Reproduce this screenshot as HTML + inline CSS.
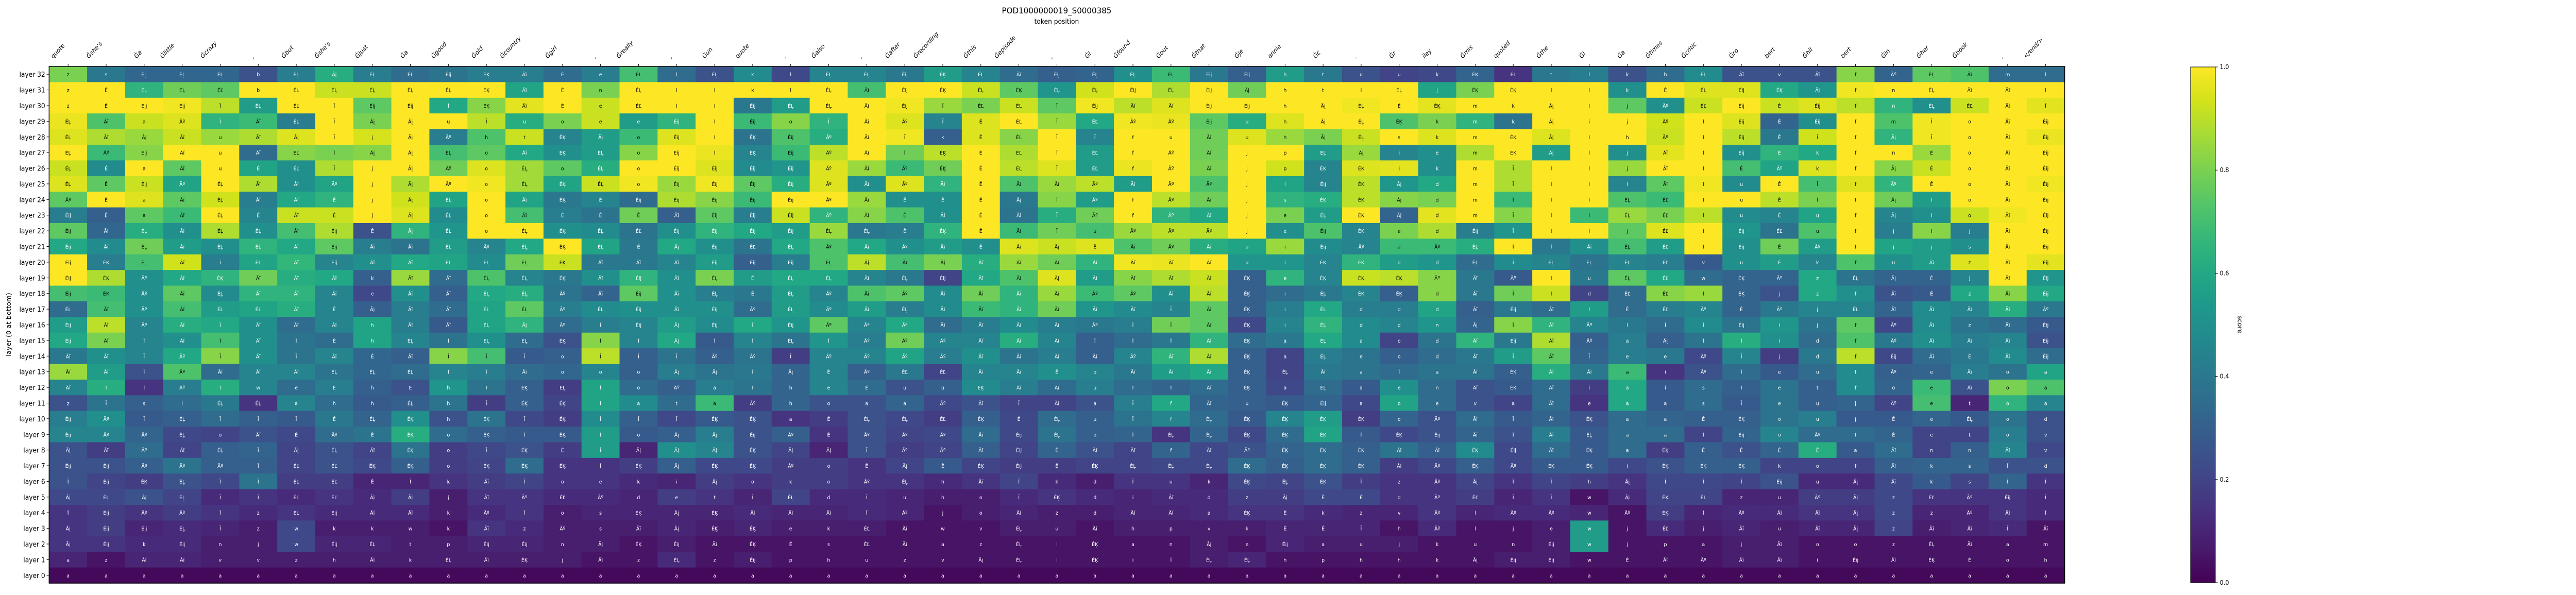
<!DOCTYPE html>
<html>
<head>
<meta charset="utf-8">
<style>
  html, body { margin: 0; padding: 0; background: #ffffff; width: 100%; height: 100%; overflow: hidden; }
  svg { display: block; position: absolute; left: 0; top: 0; width: 100vw; height: 100vh; font-family: "DejaVu Sans", "Liberation Sans", sans-serif; }
</style>
</head>
<body>
<svg id="fig" viewBox="0 0 5300 1155" preserveAspectRatio="none" xmlns="http://www.w3.org/2000/svg">
  <rect x="0" y="0" width="5300" height="1155" fill="#ffffff"/>
  <text x="2174" y="26" font-size="16" text-anchor="middle" fill="#000">POD1000000019_S0000385</text>
  <text x="2174" y="46" font-size="13" text-anchor="middle" fill="#000">token position</text>
  <text x="0" y="0" font-size="13" text-anchor="middle" fill="#000" transform="translate(22,630) rotate(-90)">layer (0 at bottom)</text>
  <g id="cells"></g>
  <g id="xticks"></g>
  <g id="yticks"></g>
  <rect x="101" y="129" width="4147" height="1003" fill="none" stroke="#000" stroke-width="1.5"/>
  <defs>
    <linearGradient id="vir" x1="0" y1="1" x2="0" y2="0"></linearGradient>
  </defs>
  <rect x="4507" y="130" width="51" height="1001" fill="url(#vir)" stroke="#000" stroke-width="1"/>
  <g id="cbticks"></g>
  <text x="0" y="0" font-size="13" text-anchor="middle" fill="#000" transform="translate(4604,630) rotate(90)">score</text>
</svg>
<script>
const tokens = ["quote","Ġshe's","Ġa","Ġlittle","Ġcrazy",",","Ġbut","Ġshe's","Ġjust","Ġa","Ġgood","Ġold","Ġcountry","Ġgirl",",","Ġreally",",","Ġun","quote",".","Ġalso",",","Ġafter","Ġrecording","Ġthis","Ġepisode",",","Ġi","Ġfound","Ġout","Ġthat","Ġje","annie","Ġc",".","Ġr","iley","Ġmis","quoted","Ġthe","Ġl","Ġa","Ġtimes","Ġcritic","Ġro","bert","Ġhil","bert","Ġin","Ġher","Ġbook",",","</end/>"];
const layerLabels = ["layer 32","layer 31","layer 30","layer 29","layer 28","layer 27","layer 26","layer 25","layer 24","layer 23","layer 22","layer 21","layer 20","layer 19","layer 18","layer 17","layer 16","layer 15","layer 14","layer 13","layer 12","layer 11","layer 10","layer 9","layer 8","layer 7","layer 6","layer 5","layer 4","layer 3","layer 2","layer 1","layer 0"];
const colorbarTicks = [0.0, 0.2, 0.4, 0.6, 0.8, 1.0];
const scoreRows = [
[.8,.4,.33,.33,.33,.25,.42,.62,.42,.35,.38,.42,.42,.35, .42,.7,.35,.25,.48,.22,.45,.45,.4,.55,.45,.35,.3,.32, .5,.68,.4,.3,.55,.4,.25,.2,.22,.32,.15,.4,.42,.25, .35,.48,.25,.25,.25,.82,.32,.75,.72,.35,.35],
[1,1,.65,.78,.75,1,1,.92,.92,1,1,1,.58,1, .8,1,1,1,1,1,1,.7,1,1,.92,.75,.52,.93, 1,.88,1,.78,1,1,1,1,.58,.8,1,1,1,.5, 1,.95,.95,.6,.52,.98,1,1,1,1,1],
[1,1,1,.98,.9,.55,1,1,.75,1,.6,.82,.96,1, .92,1,1,1,.4,.55,1,1,.98,.85,.8,.92,.75,.98, .9,.95,1,1,1,1,.98,1,.96,1,1,1,1,.75, .5,.92,1,.92,.95,.9,.65,.5,.92,1,.96],
[.97,.72,.92,.95,.65,.68,.42,1,.8,1,1,.9,.62,.8, .92,.55,.65,1,.68,.82,.65,1,.95,.45,.95,1,.85,.6, .98,.97,.75,.62,.95,1,1,.72,.8,.65,.38,1,1,1, .93,1,.95,.32,.5,1,.72,.98,1,1,1],
[.95,.88,.85,.92,.85,.88,.95,1,.94,1,.42,.72,.92,.45, .55,.68,.95,1,.38,.72,.62,1,.98,.3,.95,.82,1,.45, 1,1,.78,.95,.85,.8,.92,1,.95,1,1,.95,1,1, .92,1,.9,.4,.93,1,.65,.98,1,1,.97],
[1,.68,.82,1,1,.35,.82,.8,.82,1,.7,.75,.6,.5, .55,.82,1,.97,.45,.68,.9,1,.78,.9,1,.88,1,.55, 1,1,.78,1,1,.55,.85,.45,.5,.88,1,.55,1,.5, .96,1,.5,.65,.6,1,1,.85,1,1,1],
[.92,.48,1,.75,1,.58,.5,.88,1,1,.78,.95,.86,.75, .62,1,1,.95,.48,.52,.95,.85,.68,.78,1,.9,.95,.55, .97,1,.8,1,.93,.45,.95,.96,.5,1,.88,1,1,.85, 1,1,.7,.58,.95,1,.82,.92,1,1,1],
[.95,.75,.92,.58,1,.88,.5,.58,1,.88,1,.98,.86,.58, .92,.98,.85,.98,.75,.62,.95,.5,.95,.65,1,.72,.85,.9, .55,1,.72,1,.58,.45,.9,.52,.6,1,.88,1,1,.45, .75,.98,.48,1,.7,.95,.65,1,1,1,.98],
[.75,1,.95,.75,.93,.42,.6,.65,1,.93,.58,1,.58,.4, .45,.35,.88,.82,.68,1,1,.85,.5,.5,1,.4,.82,.55, 1,.9,.78,1,.65,.62,.9,.82,.8,1,.68,1,1,.72, .68,1,1,.9,.8,1,.78,.55,1,1,1],
[.42,.3,.75,.68,1,.45,.92,.92,1,.95,.48,1,.7,.42, .38,.78,.3,.75,.42,.92,.65,.82,.72,.5,1,.38,.62,.78, 1,.65,.6,1,.8,.55,1,.32,.96,1,.82,1,.68,.85, .8,.9,.48,.45,.58,1,.45,.5,.92,.98,1],
[.75,.33,.62,.5,.88,.5,.7,.88,.25,.65,.52,1,1,.5, .48,.38,.5,.65,.6,.55,.85,.4,.42,.65,1,.68,.78,.7, .85,.9,.9,1,.5,.72,.45,.8,.88,.42,.52,1,1,.75, .95,1,.52,.38,.72,1,.42,.82,.42,1,1],
[.6,.48,.78,.55,.5,.65,.6,.75,.42,.38,.55,.45,.6,1, .58,.4,.6,.5,.38,.6,.72,.6,.5,.55,.5,.95,.92,.95, .72,.78,.62,.58,.85,.48,.45,.68,.68,.62,1,.4,.5,.7, .55,1,.5,.78,.55,1,.58,.55,.5,1,1],
[1,.42,.7,.93,.42,.58,.66,.45,.5,.6,.58,.48,.78,.92, .4,.4,.45,.55,.3,.42,.72,.9,.7,.8,.62,.85,.78,.65, .98,.97,1,.52,.52,.45,.65,.55,.52,.35,.48,.45,.38,.45, .42,.28,.5,.55,.45,.72,.5,.55,.95,1,.96],
[1,.88,.5,.6,.65,.78,.62,.6,.3,.85,.35,.72,.45,.4, .5,.65,.5,.8,.55,.6,.6,.45,.4,.2,.6,.72,.95,.55, .82,.88,.92,.3,.65,.45,.92,.9,.82,.4,.28,1,.4,.75, .6,.35,.32,.32,.6,.38,.32,.32,.45,1,.52],
[.7,.68,.5,.75,.48,.65,.65,.45,.22,.5,.3,.6,.62,.38, .32,.75,.5,.42,.4,.55,.45,.72,.75,.48,.78,.65,.85,.68, .75,.5,.9,.3,.35,.4,.45,.3,.82,.4,.78,.92,.2,.35, .82,.85,.32,.25,.6,.5,.25,.28,.6,.82,.6],
[.35,.7,.5,.7,.55,.58,.62,.45,.3,.42,.35,.58,.75,.42, .48,.5,.5,.5,.35,.55,.48,.55,.42,.48,.68,.65,.78,.52, .48,.45,.75,.3,.42,.6,.42,.42,.58,.3,.4,.35,.55,.35, .42,.45,.32,.4,.45,.45,.32,.48,.45,.62,.4],
[.55,.9,.45,.62,.6,.5,.35,.45,.58,.42,.28,.58,.65,.35, .42,.45,.55,.48,.6,.52,.75,.45,.6,.35,.42,.48,.42,.4, .42,.78,.75,.22,.45,.65,.48,.45,.52,.32,.82,.65,.45,.4, .35,.48,.38,.52,.38,.75,.22,.48,.38,.35,.28],
[.6,.8,.45,.5,.7,.5,.38,.35,.58,.45,.38,.5,.35,.25, .82,.45,.6,.28,.45,.38,.52,.42,.78,.45,.45,.62,.45,.3, .35,.4,.65,.35,.4,.6,.48,.2,.38,.65,.4,.88,.3,.42, .3,.38,.62,.5,.35,.72,.4,.5,.42,.45,.25],
[.4,.5,.45,.6,.82,.5,.38,.45,.33,.3,.82,.7,.28,.3, .9,.3,.38,.3,.38,.18,.45,.45,.58,.42,.5,.38,.42,.3, .45,.65,.88,.3,.2,.42,.38,.3,.35,.4,.55,.75,.32,.42, .4,.22,.45,.18,.4,.9,.22,.35,.4,.48,.35],
[.85,.55,.25,.72,.35,.45,.45,.38,.33,.35,.45,.42,.35,.33, .45,.3,.42,.38,.4,.32,.45,.3,.4,.2,.45,.45,.5,.45, .4,.55,.6,.3,.2,.4,.38,.35,.38,.38,.3,.62,.4,.68, .15,.25,.35,.28,.35,.48,.3,.32,.42,.38,.58],
[.45,.62,.15,.42,.62,.45,.35,.42,.3,.25,.52,.38,.3,.18, .58,.35,.3,.42,.38,.32,.45,.35,.25,.3,.48,.42,.35,.42, .35,.32,.35,.3,.22,.35,.28,.5,.35,.25,.28,.35,.18,.6, .28,.35,.3,.38,.3,.48,.32,.68,.25,.8,.72],
[.25,.38,.3,.35,.4,.15,.45,.35,.28,.3,.38,.18,.3,.2, .58,.48,.35,.68,.18,.32,.25,.25,.32,.22,.25,.2,.2,.25, .42,.6,.32,.3,.28,.32,.22,.58,.35,.25,.2,.35,.15,.6, .28,.35,.28,.38,.3,.32,.2,.7,.1,.65,.45],
[.42,.5,.28,.3,.35,.3,.28,.4,.32,.5,.25,.38,.22,.18, .48,.3,.22,.28,.25,.15,.18,.25,.22,.18,.3,.22,.35,.3, .38,.45,.35,.28,.45,.55,.18,.32,.25,.35,.28,.32,.25,.35, .32,.3,.3,.38,.42,.28,.28,.32,.28,.38,.25],
[.45,.45,.32,.22,.2,.25,.22,.35,.38,.62,.35,.3,.28,.28, .55,.28,.3,.42,.25,.3,.15,.25,.2,.22,.35,.22,.38,.3, .32,.15,.32,.22,.35,.58,.28,.22,.25,.32,.25,.42,.28,.35, .35,.2,.32,.45,.35,.35,.32,.2,.2,.42,.25],
[.25,.18,.35,.2,.3,.32,.2,.25,.2,.38,.18,.22,.25,.18, .55,.1,.5,.45,.25,.2,.1,.25,.18,.2,.3,.2,.32,.25, .2,.32,.22,.25,.32,.35,.3,.38,.3,.48,.22,.35,.28,.35, .18,.3,.25,.32,.62,.28,.35,.2,.3,.45,.22],
[.25,.25,.3,.38,.3,.3,.2,.25,.22,.3,.18,.2,.35,.15, .15,.18,.3,.22,.22,.18,.18,.15,.2,.28,.2,.18,.18,.2, .2,.22,.22,.35,.3,.35,.3,.18,.22,.3,.22,.28,.28,.22, .25,.3,.3,.2,.2,.2,.3,.32,.32,.25,.25],
[.25,.2,.18,.25,.22,.38,.18,.18,.1,.1,.15,.18,.2,.15, .15,.12,.1,.18,.15,.18,.18,.15,.15,.12,.15,.2,.12,.08, .15,.15,.1,.22,.2,.25,.18,.15,.15,.2,.15,.2,.18,.15, .22,.22,.2,.25,.12,.12,.22,.28,.2,.32,.15],
[.22,.22,.25,.2,.12,.15,.12,.15,.12,.18,.08,.15,.15,.12, .12,.1,.18,.15,.1,.2,.12,.12,.1,.08,.08,.12,.15,.12, .1,.12,.12,.18,.18,.22,.22,.15,.15,.18,.1,.15,.05,.12, .2,.2,.1,.1,.18,.18,.22,.15,.15,.15,.12],
[.15,.18,.15,.18,.15,.12,.15,.12,.12,.12,.08,.12,.15,.08, .1,.1,.1,.1,.12,.1,.1,.12,.1,.05,.08,.1,.08,.08, .1,.1,.12,.15,.15,.12,.1,.1,.15,.1,.12,.12,.1,.05, .18,.1,.12,.12,.15,.15,.22,.1,.1,.15,.12],
[.15,.18,.1,.12,.1,.08,.22,.08,.08,.08,.05,.15,.12,.08, .08,.08,.1,.08,.1,.08,.08,.08,.05,.05,.05,.08,.08,.05, .08,.08,.08,.08,.1,.1,.1,.05,.12,.05,.05,.08,.55,.05, .12,.08,.1,.08,.1,.1,.2,.08,.1,.12,.05],
[.15,.15,.12,.12,.08,.08,.22,.1,.1,.08,.08,.1,.1,.08, .08,.05,.08,.05,.05,.05,.05,.05,.05,.05,.05,.05,.05,.05, .05,.05,.08,.05,.1,.08,.08,.08,.05,.05,.05,.08,.55,.05, .05,.05,.08,.08,.05,.05,.05,.05,.05,.05,.05],
[.1,.05,.1,.1,.08,.08,.08,.08,.08,.08,.08,.08,.08,.08, .05,.05,.12,.05,.08,.05,.05,.05,.05,.05,.05,.05,.05,.05, .05,.05,.08,.1,.05,.05,.05,.05,.05,.05,.08,.08,.05,.05, .05,.05,.08,.08,.05,.05,.05,.05,.05,.05,.05],
[.02,.02,.02,.02,.02,.02,.02,.02,.02,.02,.02,.02,.02,.02,.02,.02,.02,.02,.02,.02,.02,.02,.02,.02,.02,.02,.02,.02,.02,.02,.02,.02,.02,.02,.02,.02,.02,.02,.02,.02,.02,.02,.02,.02,.02,.02,.02,.02,.02,.02,.02,.02,.02]
];
const cellTextRows = [
"z s ÉĻ ÉĻ ÉĻ b ÉĻ Ãį ÉĻ ÉĻ Éij ÉĶ Ãĭ É e ÉĻ l ÉĻ k l ÉĻ ÉĻ Éij ÉĶ ÉĻ Ãĭ ÉĻ ÉĻ ÉĻ ÉĻ Éij Éij h t u u k ÉĶ ÉĻ t l k h ÉĻ Ãĭ v Ãĭ f Ãº ÉĻ Ãĭ m l",
"z Ê ÉĻ ÉĻ ÉĽ b ÉĻ ÉĻ ÉĻ ÉĻ ÉĻ ÉĶ Ãĭ É n ÉĻ l l k l ÉĻ Ãĭ Éij ÉĶ ÉĻ ÉĶ ÉĻ ÉĻ Éij ÉĻ Éij Ãį h t l ÉĻ j ÉĶ ÉĶ l l k Ê ÉĻ Éij ÉĶ Ãį f n ÉĻ Ãĭ Ãĭ l",
"z Ê Éij Éij Ī ÉĻ ÉĽ Ī Éij Éij Ī ÉĶ Ãĭ É e ÉĽ l l Éij ÉĻ ÉĻ Ãĭ Éij Ī ÉĽ ÉĽ Ī Éij Ãĭ Ãĭ Éij Éij h Ãį ÉĻ É ÉĶ m k Ãį l j Ãº ÉĽ Éij Ê Éij f n ÉĻ ÉĽ Ãĭ Ī",
"ÉĻ Ãĭ a Ãº Ī Ãĭ ÉĽ Ī Ãį Ãį u Ī u o e e Éij l Éij o Ī Ãĭ Ãº Ī Ê ÉĽ Ī ÉĽ Ãº Ãº Éij u h Ãį ÉĻ ÉĶ k m k Ãį i j Ãº l Éij Ê Éij f m Ī o Ãĭ Éij",
"ÉĻ Ãĭ Ãį Ãĭ u Ãĭ Ãį Ī j Ãį Ãº h t ÉĶ Ãį o Éij l ÉĶ Éij Ãº Ãĭ Ī k Ê ÉĽ Ī Ī f u Ãĭ u h Ãį ÉĻ s k m ÉĶ Ãį l h Ãº l Éij Ê Ī f Ãį Ī o Ãĭ Éij",
"ÉĻ Ãº Éij Ãĭ u Ãĭ ÉĽ Ī Ãį Ãį ÉĻ o Ãĭ ÉĶ ÉĻ o Éij l ÉĶ Éij Ãº Ãĭ Ī ÉĶ Ê ÉĽ Ī ÉĽ f Ãº Ãĭ j p ÉĻ Ãį i e m ÉĶ Ãį l j Ãĭ l Éij Ê k f n Ê o Ãĭ Éij",
"ÉĻ É a Ãĭ u É ÉĽ Ī j Ãį Ãº o ÉĻ o ÉĻ o Éij Éij Éij Éij Ãº Ãĭ Ãº ÉĶ Ê ÉĽ Ī ÉĽ f Ãº Ãĭ j p ÉĶ ÉĶ i k m Ī l l j Ãĭ l Ê Ãº k f Ãį Ê o Ãĭ Éij",
"ÉĻ Ê Éij Ãº ÉĻ Ãĭ Ãĭ Ãº j Ãį Ãº o ÉĻ ÉĶ ÉĻ o Éij Éij Éij Éij Ãº Ãĭ Ãº Ãĭ Ê Ãĭ Ãĭ Ãº Ãĭ Ãº Ãº j l Éij ÉĶ Ãį d m Ī l l l Ãĭ l u Ê Ī f Ãº Ê o Ãĭ Éij",
"Ãº Ê a Ãĭ ÉĻ Ãĭ Ãĭ Ê j Ãį ÉĻ o Ãĭ ÉĶ Ê Éij Éij Éij Éij Éij Ãº Ãĭ Ê Ê Ê Ãį Ī Ãº f Ãº Ãĭ j s ÉĶ ÉĶ Ãį d m Ī l l ÉĻ ÉĽ l u Ê Ī f Ãį l o Ãĭ Éij",
"Éij Ê a Ãĭ ÉĻ É Ãĭ Ê j Ãį ÉĻ o Ãĭ É Ê Ê Ãĭ Éij Éij Éij Ãº Ãĭ Ê Ãĭ Ê Ãĭ Ī Ãº f Ãº Ãĭ j e ÉĻ ÉĶ Ãį d m Ī l l ÉĻ ÉĽ l u Ê u f Ãį l o Ãĭ Éij",
"Éij Ãĭ ÉĻ Ãĭ ÉĻ ÉĻ Ãĭ Éij Ê Ãį ÉĻ o ÉĻ ÉĶ ÉĻ ÉĽ Éij Éij Éij Éij ÉĻ ÉĻ Ê ÉĶ Ê Ãĭ Ī u Ãº Ãº Ãº j e Éij ÉĶ a d Éij Ī l l j ÉĽ l Éij ÉĽ u f j l j Ãĭ Éij",
"Éij Ãĭ ÉĻ Ãĭ ÉĻ ÉĻ Ãĭ Éij Ãĭ Ãĭ ÉĻ Ãº ÉĻ ÉĶ ÉĻ Ê Ãį Éij ÉĽ ÉĻ Ãº Ãĭ Ãº Ãĭ Ê Ãĭ Ãį Ê Ãĭ Ãº Ãĭ u i Éij Ãº a Ãº ÉĻ Ī Ī Ãĭ ÉĻ ÉĽ l Éij Ê Ãº f j j s Ãĭ Éij",
"Éij ÉĶ ÉĻ Ãĭ Ī ÉĻ Ãĭ Éij Ãĭ Ãĭ ÉĻ ÉĻ ÉĻ ÉĶ Ãĭ Ãĭ Ãĭ Éij Éij Éij ÉĻ Ãį Ãĭ Ãį Ãĭ Ãĭ Ãĭ Ãĭ Ãĭ Ãĭ Ãĭ u i ÉĶ ÉĶ d d ÉĻ Ī ÉĻ ÉĻ ÉĻ ÉĽ v u Ê k f u Ãĭ z Ãĭ Éij",
"Éij ÉĶ Ãº Ãĭ ÉĶ Ãĭ Ãĭ Ãĭ k Ãĭ Ãĭ ÉĻ ÉĻ ÉĶ Ãĭ Éij Ãĭ ÉĻ Ê ÉĻ ÉĻ Ãĭ ÉĻ Éij Ãĭ Ãĭ Ãį Ãĭ Ãĭ Ãĭ Ãĭ ÉĶ e ÉĶ ÉĶ ÉĶ Ãº Ãĭ Ãº l u ÉĻ ÉĽ w ÉĶ Ãº z ÉĻ Ãį Ê j Ãĭ Éij",
"Éij ÉĶ Ãº Ãĭ ÉĻ Ãĭ Ãĭ Ãĭ e Ãĭ Ãĭ ÉĻ ÉĻ Ãº Ãĭ Éij Ãĭ ÉĻ Ê ÉĻ Ãº Ãĭ Ãº Ãĭ Ãĭ Ãĭ Ãĭ Ãº Ãº Ãĭ Ãĭ ÉĶ i ÉĻ ÉĶ ÉĶ d Ãĭ Ī l d ÉĽ ÉĽ l ÉĶ j z f Ãĭ Ê z Ãĭ Éij",
"ÉĻ Ãĭ Ãº Ãĭ ÉĻ ÉĻ Ãĭ Ê Ãį Ãĭ Ãĭ ÉĻ ÉĻ Ãº ÉĻ Éij Ãĭ Éij Ãº ÉĻ Ãº Ãĭ ÉĻ Ãĭ Ãĭ Ãĭ Ãĭ Ãĭ Ãĭ Ī Ãĭ ÉĶ i ÉĻ d d d Ãĭ Éij Ãĭ l Ê ÉĽ Ãº É Ãº j ÉĻ Ãĭ Ãĭ Ãĭ Ãĭ Ãº",
"Éij Ãĭ Ãº Ãĭ Ī Ãĭ Ãĭ Ãĭ h Ãĭ Ãĭ ÉĻ Ãį Ãº Ī Éij Ãį Éij Ī Éij Ãº Ãº Ãº Ãĭ Ãĭ Ãĭ Ãĭ Ãº Ī Ī Ãĭ ÉĶ i ÉĻ d d n Ãį Ī Ãĭ Ãº l Ī Ī Éij i j f Ãº Ãĭ z Ãĭ Éij",
"Éij Ãĭ Ī Ãĭ Ī Ãĭ Ī Ê h ÉĻ Ī ÉĻ ÉĻ ÉĶ Ī Ī Ãį Ī Ī ÉĻ Ī Ãº Ãº Ãº Ãĭ Ãĭ Ãĭ Ī Ī Ī Ãĭ ÉĶ a ÉĻ a o d Ãĭ Éij Ãĭ Ãº a Ãį Ī Ī i d f Ãº Ãĭ Ãĭ Ãĭ Éij",
"Ãĭ Ãĭ Ī Ãº Ī Ãĭ Ī Ãĭ Ê Ãĭ Ī Ī Ī o Ī Ī Ī Ãº Ãº Ī Ãº Ãº Ãº Ãº Ãĭ Ãĭ Ãĭ Ãĭ Ãº Ãĭ Ãĭ ÉĶ a ÉĻ e o d Ãĭ Ī Ãĭ Ī e e Ãº Ī j d f Éij Ãĭ Ê Ãĭ Éij",
"Ãĭ Ãĭ Ī Ãº Ãĭ Ãĭ Ãĭ ÉĻ ÉĻ ÉĻ Ī Ī Ãĭ o o o Ãį Ãį Ī Ãį É Ãº ÉĽ ÉĽ Ãĭ Ãĭ Ê o Ãĭ Ãĭ Ãĭ ÉĶ ÉĻ Ãĭ a Ī a Ãĭ ÉĶ Ãĭ Ãĭ a i Ãº Ī e u f Ãº e Ãĭ o a",
"Ãĭ Ī l Ãº Ī w e Ê h Ê h Ī ÉĶ ÉĻ l o Ãº a Ī h e Ê u u ÉĶ Ãĭ Ãĭ u Ī Ī Ãĭ ÉĶ a ÉĻ a e n Ãĭ ÉĶ Ãĭ i a i s Ī e t f o e Ãĭ o a",
"z Ī s i ÉĻ ÉĻ a h h ÉĻ h Ī ÉĶ ÉĶ l a t a Ãº h o a a Ãº Ãĭ Ī Ãĭ a Ī f Ãĭ u ÉĶ Éij a o e v a Ãĭ e a a s Ī e u j Ãº e t o a",
"Éij Ãº Ī ÉĻ Ī Ī Ī Ê ÉĻ ÉĶ h ÉĶ Ī ÉĶ Ī Ī Ī ÉĶ ÉĶ a É ÉĻ ÉĻ ÉĽ ÉĶ É ÉĻ u Ī f ÉĻ ÉĶ ÉĶ ÉĶ ÉĶ o Ãº Ãĭ Ī Ãĭ ÉĶ a a Ê ÉĶ o u j É e ÉĻ o d",
"Éij Ãº Ãº ÉĻ o Ãĭ É Ãº Ê ÉĶ o ÉĶ Ī ÉĶ Ī o Ãį Ãį Éij Ãº É Ãº Ãº Ãº Ãĭ Éij ÉĻ o Ī ÉĻ ÉĻ ÉĶ ÉĶ ÉĶ Ī ÉĶ Éij Ãĭ Ī Ãĭ ÉĻ a a Ī Éij o Ãº f É e t o v",
"Ãį Ãĭ Ãº Ãĭ ÉĻ Ī Ãį ÉĻ Ãĭ ÉĶ o Ī ÉĶ É Ī Ãį Ãį Ãį ÉĶ Ãį Ãį Ī Ãº Ãº Ãĭ Éij Ê Ãĭ Ãĭ f Ãĭ Ãº ÉĶ ÉĶ ÉĶ Ãĭ Ãĭ ÉĶ Éij Ãĭ ÉĶ a ÉĶ Ê Ê Ê Ê a Ãĭ n n Ãĭ v",
"Éij Éij Ãº Ãº Ãº Ī ÉĽ ÉĽ ÉĶ ÉĶ o ÉĶ ÉĶ ÉĶ Ī ÉĶ Ãį ÉĶ ÉĶ Ãº o Ê Ãį Ê ÉĶ Éij Ê ÉĶ ÉĻ ÉĻ ÉĻ ÉĶ ÉĶ ÉĶ ÉĶ Ãĭ Ãº ÉĶ Ãº ÉĶ ÉĶ i ÉĶ ÉĶ ÉĶ k o f Ãĭ k s Ī d",
"Ī Éij ÉĶ ÉĻ Ī Ī ÉĽ ÉĽ Ê Ī k Ãĭ Ī o e k i Ãį o k o Ãº ÉĻ h Ãĭ Ī k d Ī u k ÉĶ ÉĻ ÉĶ Ī z Ãº Ãį Ī Ī h Ãį Ī Ī Ī Éij u Ãį Ãĭ k s Ī Ī",
"Ãį ÉĻ Ãį ÉĻ Ī Ī ÉĽ ÉĽ Ãį Ãį j Ãĭ Ãº ÉĽ Ãº d e t Ī ÉĻ d Ī u h o Ī ÉĶ d i Ãĭ d z Ãį Ê É d Ãº ÉĽ Ī Ī w Ãį ÉĶ ÉĻ z u Ãº Ãį z ÉĽ Ãº Éij Ī",
"Ī Éij Ãº Ãº Ī z ÉĻ Éij Ãĭ Ãĭ k Ãº Ī o s ÉĶ Ãį ÉĶ Ãĭ Ãĭ Ãĭ Ī Ãº j o Ãĭ z d Ãĭ Ãĭ a ÉĶ Ê k z v Ãº l Ãº Ãº w Ãº ÉĶ Ī Ãº Ãĭ Ãĭ Ãį z z Ãº Ãĭ Ī",
"Ãį Éij Éij ÉĻ Ī z w k k w k Ãĭ z Ãº s Ãĭ Ãį ÉĶ ÉĶ e k ÉĽ Ãĭ w v ÉĻ u Ãĭ h p v k Ê Ê Ī h Ãº l j e w j ÉĽ j Ãĭ u Ãĭ Ãį z Ãĭ Ãĭ Ī Ãĭ",
"Ãį Éij k Éij n j w Éij ÉĻ t p Éij Éij n Ãį ÉĶ Éij Ãĭ ÉĶ É s ÉĽ Ãĭ a z ÉĻ l ÉĶ a n Ãį e Éij a u j k u n Éij w j p a j Ãĭ o o z ÉĻ Ãĭ a m",
"a z Ãĭ Ãĭ v v z h Ãĭ k ÉĻ Ãĭ ÉĶ j Ãĭ z ÉĻ z Éij p h u z v Ãį ÉĻ l ÉĶ i Ī ÉĻ ÉĻ h p h h k Ãį Éij Éij w É Ãĭ Ãº Ãĭ Ãĭ i Éij Ãĭ ÉĶ É o h",
"a a a a a a a a a a a a a a a a a a a a a a a a a a a a a a a a a a a a a a a a a a a a a a a a a a a a a"
];

const NS = "http://www.w3.org/2000/svg";
const X0 = 101, X1 = 4248, Y0 = 129, Y1 = 1132;
const CW = (X1 - X0) / tokens.length;
const RH = (Y1 - Y0) / layerLabels.length;
function xOf(i) { return X0 + i * CW; }
function yOf(r) { return Y0 + r * RH; }
const VIR = ["#440154","#481a6c","#472f7d","#414487","#39568c","#31688e","#2a788e","#23888e","#1f988b","#22a884","#35b779","#54c568","#7ad151","#a5db36","#d2e21b","#fde725"];
function hex(c){return [parseInt(c.slice(1,3),16),parseInt(c.slice(3,5),16),parseInt(c.slice(5,7),16)];}
function viridis(v) {
  v = Math.max(0, Math.min(1, v));
  const p = v * (VIR.length - 1), i = Math.min(Math.floor(p), VIR.length - 2), f = p - i;
  const a = hex(VIR[i]), b = hex(VIR[i + 1]);
  return "rgb(" + a.map((x, k) => Math.round(x + (b[k] - x) * f)).join(",") + ")";
}
const gCells = document.getElementById("cells");
for (let r = 0; r < scoreRows.length; r++) {
  const txt = cellTextRows[r].split(" ");
  for (let c = 0; c < tokens.length; c++) {
    const v = scoreRows[r][c];
    const rect = document.createElementNS(NS, "rect");
    
    
    rect.setAttribute("x", xOf(c).toFixed(2));
    rect.setAttribute("y", yOf(r).toFixed(2));
    rect.setAttribute("width", (CW + 0.6).toFixed(2));
    rect.setAttribute("height", (RH + 0.6).toFixed(2));
    rect.setAttribute("fill", viridis(v));
    gCells.appendChild(rect);
    const t = document.createElementNS(NS, "text");
    
    
    t.setAttribute("x", (xOf(c) + CW / 2).toFixed(2));
    t.setAttribute("y", (yOf(r) + RH / 2 + 4).toFixed(2));
    t.setAttribute("font-size", "10");
    t.setAttribute("text-anchor", "middle");
    t.setAttribute("fill", v > 0.66 ? "#000" : "#fff");
    t.textContent = txt[c] || "";
    gCells.appendChild(t);
  }
}
const gX = document.getElementById("xticks");
tokens.forEach((tok, i) => {
  const cx = xOf(i) + CW / 2;
  const ln = document.createElementNS(NS, "line");
  
  
  ln.setAttribute("x1", cx); ln.setAttribute("x2", cx);
  ln.setAttribute("y1", Y0 - 5); ln.setAttribute("y2", Y0);
  ln.setAttribute("stroke", "#000");
  gX.appendChild(ln);
  const t = document.createElementNS(NS, "text");
  
  
  t.setAttribute("font-size", "12");
  t.setAttribute("font-style", "italic");
  t.setAttribute("text-anchor", "start");
  t.setAttribute("fill", "#000");
  t.textContent = tok;
  gX.appendChild(t);
  const L = tok.length * 7;
  const sx = cx - L * 0.707 - 6;
  t.setAttribute("transform", "translate(" + sx.toFixed(1) + "," + (Y0 - 15) + ") rotate(-45)");
});
const gY = document.getElementById("yticks");
layerLabels.forEach((lab, r) => {
  const cy = yOf(r) + RH / 2;
  const ln = document.createElementNS(NS, "line");
  
  
  ln.setAttribute("x1", X0 - 5); ln.setAttribute("x2", X0);
  ln.setAttribute("y1", cy); ln.setAttribute("y2", cy);
  ln.setAttribute("stroke", "#000");
  gY.appendChild(ln);
  const t = document.createElementNS(NS, "text");
  
  
  t.setAttribute("x", X0 - 8);
  t.setAttribute("y", cy + 5);
  t.setAttribute("font-size", "13");
  t.setAttribute("text-anchor", "end");
  t.setAttribute("fill", "#000");
  t.textContent = lab;
  gY.appendChild(t);
});
const grad = document.getElementById("vir");
VIR.forEach((c, i) => {
  const s = document.createElementNS(NS, "stop");
  s.setAttribute("offset", (i / (VIR.length - 1)).toFixed(4));
  s.setAttribute("stop-color", c);
  grad.appendChild(s);
});
const CB_Y0 = 130, CB_Y1 = 1131, CB_X = 4558;
const gCB = document.getElementById("cbticks");
colorbarTicks.forEach(v => {
  const y = CB_Y1 - v * (CB_Y1 - CB_Y0);
  const ln = document.createElementNS(NS, "line");
  
  
  ln.setAttribute("x1", CB_X); ln.setAttribute("x2", CB_X + 5);
  ln.setAttribute("y1", y); ln.setAttribute("y2", y);
  ln.setAttribute("stroke", "#000");
  gCB.appendChild(ln);
  const t = document.createElementNS(NS, "text");
  
  
  t.setAttribute("x", CB_X + 9);
  t.setAttribute("y", y + 4);
  t.setAttribute("font-size", "12");
  t.setAttribute("fill", "#000");
  t.textContent = v.toFixed(1);
  gCB.appendChild(t);
});
</script>
</body>
</html>
